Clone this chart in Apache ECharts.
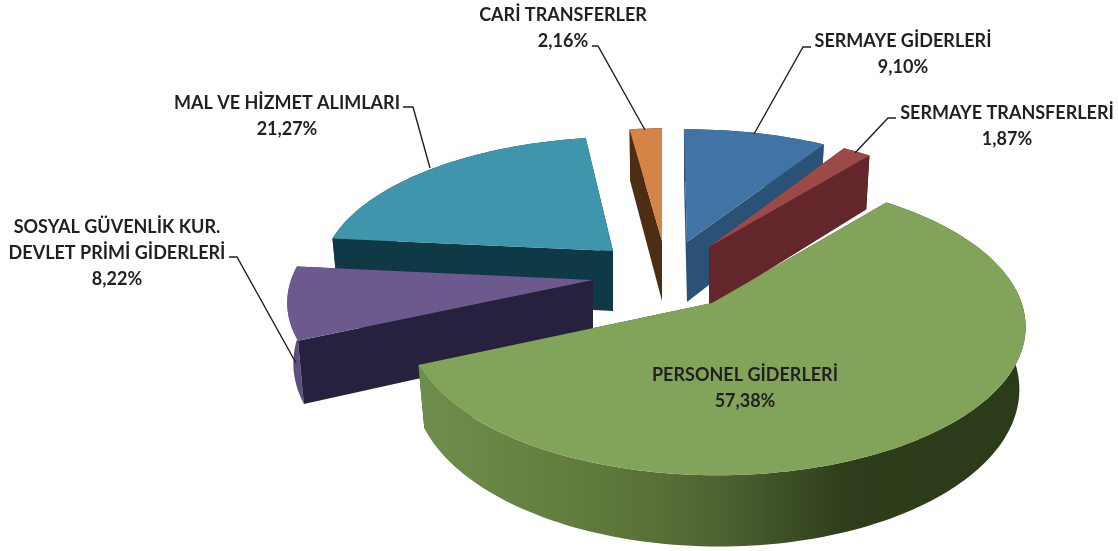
<!DOCTYPE html>
<html>
<head>
<meta charset="utf-8">
<style>
  html, body { margin: 0; padding: 0; background: #fff; }
  #chart { width: 1118px; height: 551px; }
</style>
<script src="https://cdn.jsdelivr.net/npm/echarts@6/dist/echarts.min.js"></script>
</head>
<body>
<div id="chart"></div>
<script>
// clockwise from 12 o'clock
const categories = [
  'SERMAYE GİDERLERİ',
  'SERMAYE TRANSFERLERİ',
  'PERSONEL GİDERLERİ',
  'SOSYAL GÜVENLİK KUR.\nDEVLET PRİMİ GİDERLERİ',
  'MAL VE HİZMET ALIMLARI',
  'CARİ TRANSFERLER'
]
const values = [9.10, 1.87, 57.38, 8.22, 21.27, 2.16]

const topColors = ['#4174A5', '#9B4A48', '#82A45A', '#6C5A8E', '#3E95AC', '#D38446']
const wallColors = ['#2A5276', '#63262B', '#2B3B1A', '#26213F', '#0F3A45', '#4E2E12']
const arcColors = ['#2A5276', '#63262B', null, '#5F4F80', '#0F3A45', '#4E2E12']

// exploded slices: where each tip sits, and how each one is distorted by the view
const apexX = [687, 709, 712, 593, 613, 662]
const apexY = [242, 247, 303, 280, 251, 241]
const shrinkX = [0.95, 0.92, 1, 1.005, 0.955, 0.91]
const shrinkY = [0.9, 0.91, 1, 0.98, 0.91, 0.9]
const shear = [0.027, 0, 0, 0, -0.06, 0]
const drawOrder = [0, 5, 4, 1, 3, 2]

// tilted disc
const rx = 305
const ry = 145
const tiltV = 0.158
const tiltU = 0.015
const depth = 60
const floorShrink = 0.98

// label anchors and leader lines
const labelX = [903, 1007, 745, 117, 287, 563]
const labelY = [41, 113, 375, 227, 103, 15]
const lineHeight = 26
const leaders = [
  [[811, 47], [803, 47], [754, 134]],
  [[896, 118], [888, 118], [855, 153]],
  null,
  [[229, 257], [237, 257], [296, 363]],
  [[403, 107], [413, 107], [430, 168]],
  [[592, 46], [598, 46], [645, 130]]
]

const total = values.reduce((a, b) => a + b, 0)
const starts = []
values.reduce((sum, v, i) => {
  starts[i] = sum / total * Math.PI * 2
  return sum + v
}, 0)

function project (i, angle, r) {
  const u = Math.sin(angle) * r
  const v = -Math.cos(angle) * r
  const s = 1 / (1 - tiltV * v - tiltU * u)
  const dy = ry * v * s * shrinkY[i]
  const dx = rx * u * s * shrinkX[i] + shear[i] * dy
  return {
    top: [apexX[i] + dx, apexY[i] + dy],
    bottom: [apexX[i] + dx * floorShrink, apexY[i] + dy + depth * s]
  }
}

function poly (points, fill) {
  return { type: 'polygon', shape: { points: points }, style: { fill: fill } }
}

function renderSlice (params, api) {
  const i = api.value(0)
  const a0 = starts[i]
  const a1 = a0 + api.value(1) / total * Math.PI * 2
  const steps = Math.max(6, Math.ceil((a1 - a0) * 40))
  const arc = []
  for (let k = 0; k <= steps; k++) {
    arc.push(project(i, a0 + (a1 - a0) * k / steps, 1))
  }
  const tip = project(i, 0, 0)
  const arcTop = arc.map(p => p.top)
  const arcBottom = arc.map(p => p.bottom).reverse()

  // green wall is the only one with a visible sweep of shading
  const arcFill = arcColors[i] || {
    type: 'linear',
    x: 0,
    y: 0,
    x2: 1,
    y2: 0,
    colorStops: [
      { offset: 0, color: '#6F8E4D' },
      { offset: 0.2, color: '#65813F' },
      { offset: 0.4, color: '#586F37' },
      { offset: 0.52, color: '#4A5F2E' },
      { offset: 0.7, color: '#2E3E1B' },
      { offset: 1, color: '#2B3B1A' }
    ]
  }

  const first = arc[0]
  const last = arc[arc.length - 1]
  const outer = poly(arcTop.concat(arcBottom), arcFill)
  const sides = [
    poly([tip.top, last.top, last.bottom, tip.bottom], wallColors[i]),
    poly([tip.top, first.top, first.bottom, tip.bottom], wallColors[i])
  ]
  // the big slice faces the viewer, its outer wall hides the cut faces
  const walls = arcColors[i] ? [outer].concat(sides) : sides.concat([outer])
  return {
    type: 'group',
    children: walls.concat([poly([tip.top].concat(arcTop), topColors[i])])
  }
}

const labelFont = { fontFamily: 'Lato', fontWeight: 'bold', fontSize: 18, fill: '#231F20' }
const elements = []
categories.forEach((name, i) => {
  const lines = name.split('\n')
  lines.push(values[i].toFixed(2).replace('.', ',') + '%')
  lines.forEach((text, n) => {
    elements.push({
      type: 'text',
      x: labelX[i],
      y: labelY[i] + n * lineHeight,
      z: 10,
      style: Object.assign({ text: text, textAlign: 'center', textVerticalAlign: 'middle' }, labelFont)
    })
  })
  if (leaders[i]) {
    elements.push({
      type: 'polyline',
      z: 9,
      shape: { points: leaders[i] },
      style: { fill: null, stroke: '#231F20', lineWidth: 1.4 }
    })
  }
})

const myChart = echarts.init(document.getElementById('chart'))
myChart.setOption({
  backgroundColor: '#fff',
  animation: false,
  graphic: { elements: elements },
  series: [
    {
      type: 'custom',
      coordinateSystem: 'none',
      z: 1,
      silent: true,
      clip: false,
      renderItem: renderSlice,
      data: drawOrder.map(i => [i, values[i]])
    }
  ]
})
</script>
</body>
</html>
